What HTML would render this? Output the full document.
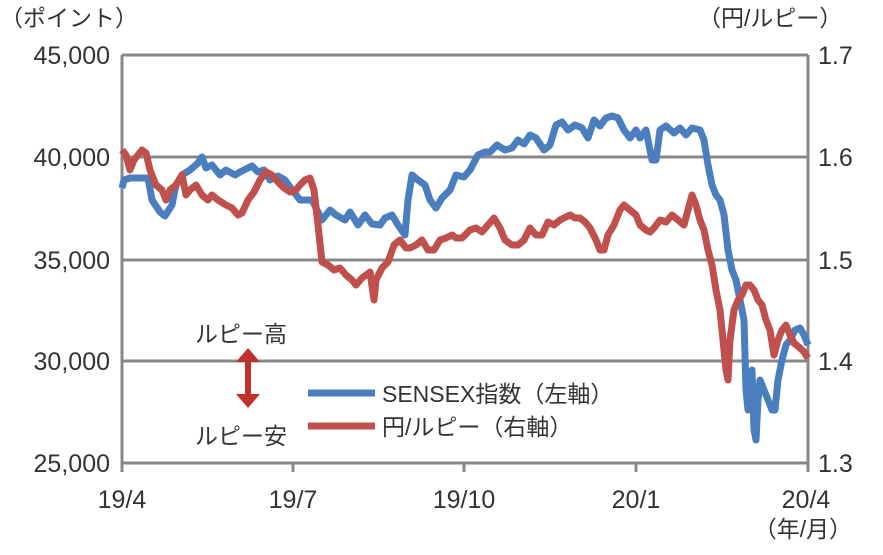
<!DOCTYPE html>
<html><head><meta charset="utf-8"><style>
body{margin:0;background:#fff;}
svg text{font-family:"Liberation Sans","Noto Sans CJK JP",sans-serif;fill:#333;}
</style></head><body>
<svg width="883" height="550" viewBox="0 0 883 550" xmlns="http://www.w3.org/2000/svg">
<g stroke="#888" stroke-width="3">
<line x1="122" y1="55" x2="808" y2="55"/>
<line x1="122" y1="157" x2="808" y2="157"/>
<line x1="122" y1="260" x2="808" y2="260"/>
<line x1="122" y1="361" x2="808" y2="361"/>
<line x1="122" y1="463" x2="808" y2="463"/>
<line x1="122" y1="55" x2="122" y2="463"/>
<line x1="808" y1="55" x2="808" y2="463"/>
<line x1="293" y1="463" x2="293" y2="472"/>
<line x1="464" y1="463" x2="464" y2="472"/>
<line x1="636" y1="463" x2="636" y2="472"/>
<line x1="122" y1="463" x2="122" y2="472"/>
<line x1="808" y1="463" x2="808" y2="472"/>
</g>
<g font-size="25" text-anchor="end">
<text x="110" y="64">45,000</text><text x="110" y="166">40,000</text><text x="110" y="269">35,000</text><text x="110" y="370">30,000</text><text x="110" y="472">25,000</text>
</g>
<g font-size="25">
<text x="818" y="64">1.7</text><text x="818" y="166">1.6</text><text x="818" y="269">1.5</text><text x="818" y="370">1.4</text><text x="818" y="472">1.3</text>
<text x="0" y="26" font-size="23">（ポイント）</text>
<text x="698" y="26" font-size="23">（円/ルピー）</text>
</g>
<g font-size="25" text-anchor="middle">
<text x="122" y="508">19/4</text><text x="293" y="508">19/7</text><text x="464" y="508">19/10</text><text x="636" y="508">20/1</text><text x="806" y="508">20/4</text>
<text x="803" y="537" font-size="23">（年/月）</text>
</g>
<polyline fill="none" stroke="#4a7ebf" stroke-width="7" stroke-linejoin="round" points="122,188 124,180 130,178 148,178 152,200 160,212 165,216 172,205 176,185 182,175 190,170 198,163 202,157 206,168 212,165 220,175 226,170 235,175 240,172 252,166 258,172 264,170 270,180 278,176 285,180 290,187 300,200 312,200 318,212 322,220 330,210 336,215 345,220 350,212 358,225 365,215 372,224 380,225 385,218 392,215 398,225 405,235 408,200 412,175 418,180 425,185 430,200 436,208 442,198 450,190 456,175 464,177 470,170 478,155 485,152 490,152 497,145 505,150 512,148 518,140 524,144 530,135 536,138 544,150 550,145 556,125 562,122 568,130 575,125 582,128 588,138 594,120 600,126 606,118 612,116 618,118 624,130 630,138 636,130 640,138 646,130 652,160 656,160 660,130 666,126 674,133 680,128 686,135 692,128 700,130 704,140 708,165 712,185 716,195 720,200 724,215 728,250 732,270 736,280 740,300 744,320 746,390 748,410 750,380 752,370 754,430 756,440 758,400 760,380 764,390 768,400 772,410 775,410 778,380 782,360 786,345 790,340 795,330 800,328 804,335 808,345"/>
<polyline fill="none" stroke="#c0504d" stroke-width="7" stroke-linejoin="round" points="122,150 126,155 130,170 134,160 138,155 142,150 146,153 150,170 156,185 162,190 166,200 170,190 176,185 182,175 186,195 190,190 196,185 202,195 208,200 212,195 218,200 226,205 232,208 238,215 242,213 248,200 254,192 260,180 266,172 272,175 278,182 284,188 290,192 296,190 300,185 305,180 310,178 314,190 318,225 322,262 328,265 334,270 340,268 346,275 352,280 356,285 362,278 370,272 374,300 376,280 382,268 388,262 394,245 400,240 406,248 410,248 416,245 422,240 428,250 434,250 440,240 446,238 452,235 456,238 462,238 470,230 476,228 482,232 488,225 494,218 500,228 505,240 512,245 518,245 524,240 530,228 536,235 542,235 548,222 554,225 560,220 564,218 570,215 575,218 580,218 585,222 590,228 596,240 600,250 604,250 608,235 614,225 620,210 624,205 630,210 636,215 640,225 646,230 650,232 654,228 660,220 666,222 672,215 678,220 684,225 688,210 692,195 696,205 700,220 704,230 708,250 712,265 716,290 720,310 722,330 726,370 728,380 730,340 734,310 738,300 742,295 746,285 750,285 754,290 758,300 762,305 766,320 770,330 774,355 778,340 782,330 786,325 790,335 794,343 800,348 804,352 808,358"/>
<line x1="308" y1="393" x2="375" y2="393" stroke="#4a7ebf" stroke-width="7"/>
<line x1="308" y1="426" x2="375" y2="426" stroke="#c0504d" stroke-width="7"/>
<g font-size="23">
<text x="382" y="402">SENSEX指数（左軸）</text>
<text x="382" y="435">円/ルピー（右軸）</text>
<text x="195" y="342">ルピー高</text>
<text x="195" y="444">ルピー安</text>
</g>
<line x1="248" y1="360" x2="248" y2="396" stroke="#c0302d" stroke-width="6"/>
<polygon points="236,362 260,362 248,348" fill="#c0302d"/>
<polygon points="236,394 260,394 248,408" fill="#c0302d"/>
</svg>
</body></html>
